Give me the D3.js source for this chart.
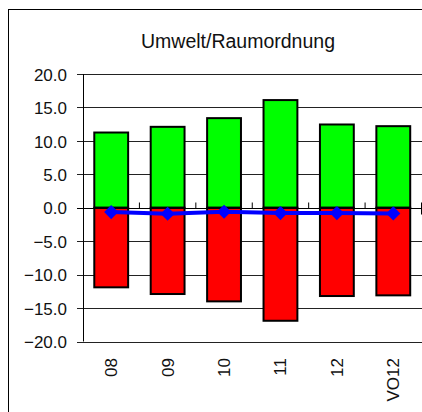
<!DOCTYPE html>
<html><head><meta charset="utf-8">
<script src="https://cdn.jsdelivr.net/npm/d3@7"></script>
<style>body{margin:0;background:#fff}svg{display:block}</style>
</head><body>
<script>
const categories = ["08","09","10","11","12","VO12"];
const positive = [11.25, 12.1, 13.4, 16.1, 12.45, 12.2];
const negative = [-11.9, -12.9, -14.0, -16.9, -13.2, -13.1];
const net = [-0.65, -0.9, -0.6, -0.8, -0.8, -0.85];
const yTicks = [20, 15, 10, 5, 0, -5, -10, -15, -20];
const title = "Umwelt/Raumordnung";

const W = 422, H = 412;
const svg = d3.select("body").append("svg").attr("width", W).attr("height", H);
const font = "'Liberation Sans', Arial, sans-serif";

// outer frame
svg.append("rect").attr("x", 8.5).attr("y", 9.5).attr("width", 430).attr("height", 420)
  .attr("fill", "#fff").attr("stroke", "#000").attr("stroke-width", 1);

const x = d3.scaleBand().domain(categories).range([83, 421.5]).paddingInner(0.4).paddingOuter(0.2);
const y = d3.scaleLinear().domain([-20, 20]).range([341.5, 74]);

// gridlines
svg.append("g").selectAll("line").data(yTicks.filter(d => d !== 0)).join("line")
  .attr("x1", 77).attr("x2", W).attr("y1", d => Math.round(y(d)) + 0.5).attr("y2", d => Math.round(y(d)) + 0.5)
  .attr("stroke", "#222").attr("stroke-width", 1);

// y axis
const yAxis = d3.axisLeft(y).tickValues(yTicks).tickFormat(d3.format(".1f")).tickSize(0).tickPadding(16);
const gy = svg.append("g").attr("transform", "translate(83,0)").call(yAxis);
gy.select(".domain").remove();
gy.selectAll("text").attr("font-family", font).attr("font-size", 17).attr("fill", "#111")
  .attr("dx", 0).attr("dy", "0.36em");
svg.append("line").attr("x1", 83.5).attr("x2", 83.5).attr("y1", y(20)).attr("y2", y(-20))
  .attr("stroke", "#000").attr("stroke-width", 1);

// bars
svg.append("g").selectAll("rect").data(categories).join("rect")
  .attr("x", d => x(d)).attr("width", x.bandwidth())
  .attr("y", (d, i) => y(positive[i])).attr("height", (d, i) => y(0) - y(positive[i]))
  .attr("fill", "#00ff00").attr("stroke", "#000").attr("stroke-width", 2);
svg.append("g").selectAll("rect").data(categories).join("rect")
  .attr("x", d => x(d)).attr("width", x.bandwidth())
  .attr("y", y(0)).attr("height", (d, i) => y(negative[i]) - y(0))
  .attr("fill", "#ff0000").attr("stroke", "#000").attr("stroke-width", 2);

// zero axis line
const y0 = Math.round(y(0)) + 0.5;
svg.append("line").attr("x1", 77).attr("x2", W).attr("y1", y0).attr("y2", y0)
  .attr("stroke", "#000").attr("stroke-width", 1.2);
// category boundary ticks
const bounds = categories.map(d => x(d) - x.step() * x.paddingInner() / 2 + x.step());
svg.append("g").selectAll("line").data(bounds).join("line")
  .attr("x1", d => d).attr("x2", d => d).attr("y1", y0 - 6).attr("y2", (d, i) => i === bounds.length - 1 ? y0 + 6 : y0)
  .attr("stroke", "#000").attr("stroke-width", 1);

// net line
const cx = d => x(d) + x.bandwidth() / 2;
const line = d3.line().x((d, i) => cx(categories[i])).y(d => y(d));
svg.append("path").datum(net).attr("d", line).attr("fill", "none")
  .attr("stroke", "#0000ff").attr("stroke-width", 4);
svg.append("g").selectAll("path").data(net).join("path")
  .attr("d", d3.symbol().type(d3.symbolSquare).size(100))
  .attr("transform", (d, i) => `translate(${cx(categories[i])},${y(d)}) rotate(45)`)
  .attr("fill", "#0000ff");

// x labels
svg.append("g").selectAll("text").data(categories).join("text")
  .attr("transform", d => `translate(${cx(d) + 6},358) rotate(-90)`)
  .attr("text-anchor", "end").attr("font-family", font).attr("font-size", 17).attr("fill", "#111")
  .text(d => d);

// title
svg.append("text").attr("x", 238).attr("y", 48).attr("text-anchor", "middle")
  .attr("font-family", font).attr("font-size", 19.5).attr("fill", "#111").text(title);
</script>
</body></html>
